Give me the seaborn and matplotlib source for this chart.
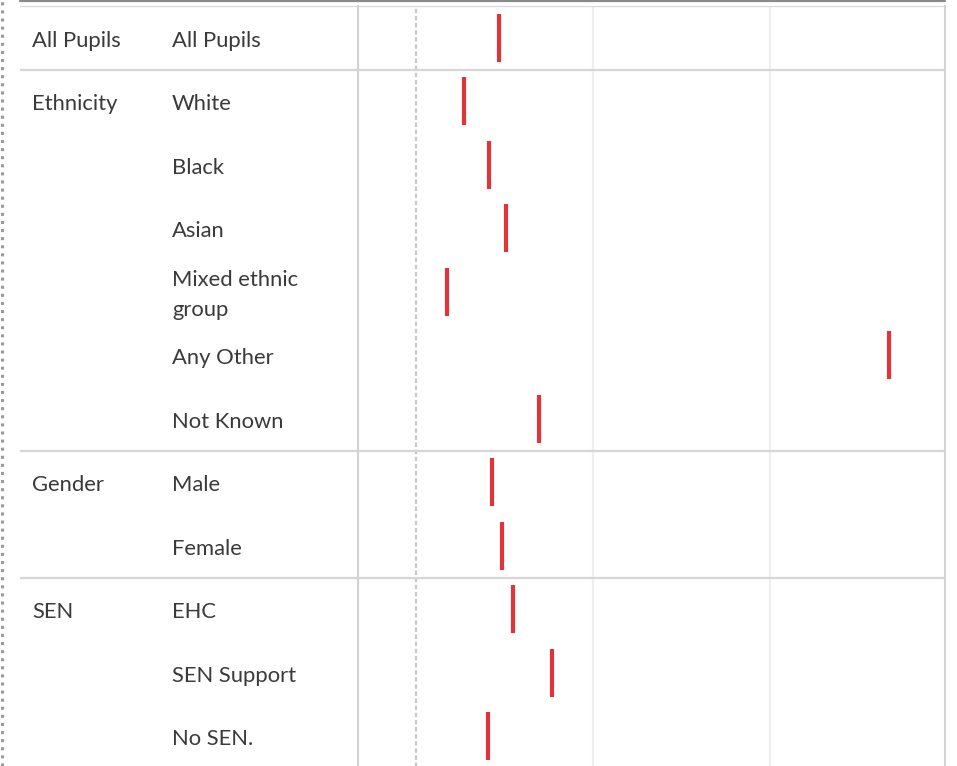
import numpy as np
import pandas as pd
import matplotlib.pyplot as plt
from matplotlib.lines import Line2D
import seaborn as sns

# Data
groups = ["All Pupils", "Ethnicity", "", "", "", "", "", "Gender", "", "SEN", "", ""]
subgroups = ["All Pupils", "White", "Black", "Asian", "Mixed ethnic\ngroup", "Any Other",
             "Not Known", "Male", "Female", "EHC", "SEN Support", "No SEN."]
values = [0.94, 0.54, 0.83, 1.02, 0.35, 5.35, 1.39, 0.86, 0.97, 1.10, 1.54, 0.81]
group_breaks = [0, 1, 7, 9]
grid_ticks = [2, 4]

W, H = 957, 766
sns.set_theme(style="white")
plt.rcParams["font.family"] = ["Lato", "DejaVu Sans"]

fig = plt.figure(figsize=(W / 100, H / 100), dpi=100)

top_px, bottom_px = 6, 768
plot_l, plot_r, head_l = 358, 945, 20


def fig_box(x0, x1):
    return [x0 / W, (H - bottom_px) / H, (x1 - x0) / W, (bottom_px - top_px) / H]


ax = fig.add_axes(fig_box(plot_l, plot_r))
hx = fig.add_axes(fig_box(head_l, plot_l))

df = pd.DataFrame({"subgroup": subgroups, "value": values, "row": np.arange(len(values)) + 0.5})

sns.scatterplot(data=df, x="value", y="row", marker="|", s=1200, linewidth=3,
                color="#e0343a", ax=ax, legend=False, zorder=5)

ax.set_xlim((358 - 416) / 88.5, (945 - 416) / 88.5)
ax.set_ylim(len(values), 0)
ax.axvline(0, color="#c8c8c8", lw=1.6, ls=(0, (2, 1.2)), zorder=1)
for t in grid_ticks:
    ax.axvline(t, color="#efefef", lw=1.6, zorder=1)
for b in group_breaks:
    ax.axhline(b, color="#d6d6d6", lw=1.6, zorder=2)
ax.set_xticks([])
ax.set_yticks([])
ax.set_xlabel("")
ax.set_ylabel("")
for side in ["top", "bottom"]:
    ax.spines[side].set_visible(False)
for side in ["left", "right"]:
    ax.spines[side].set_color("#d2d2d2")
    ax.spines[side].set_linewidth(1.5)

# row header table
hx.set_xlim(head_l, plot_l)
hx.set_ylim(len(values), 0)
hx.axis("off")
for b in group_breaks:
    hx.axhline(b, color="#d6d6d6", lw=1.6)
for i, (g, s) in enumerate(zip(groups, subgroups)):
    y = i + 0.55
    if g:
        hx.text(32, y, g, va="center", ha="left", fontsize=15.8, color="#3a3a3a")
    hx.text(172, y, s, va="center", ha="left", fontsize=15.8, color="#3a3a3a",
            linespacing=1.6)

# outer frame bits
fig.add_artist(Line2D([head_l / W, plot_r / W], [1 - 1 / H, 1 - 1 / H],
                      color="#8a8a8a", lw=1.6))
fig.add_artist(Line2D([1.5 / W, 1.5 / W], [0, 1], color="#9a9a9a", lw=2.2, ls=":"))

plt.savefig("out.png", dpi=100)
plt.close()
